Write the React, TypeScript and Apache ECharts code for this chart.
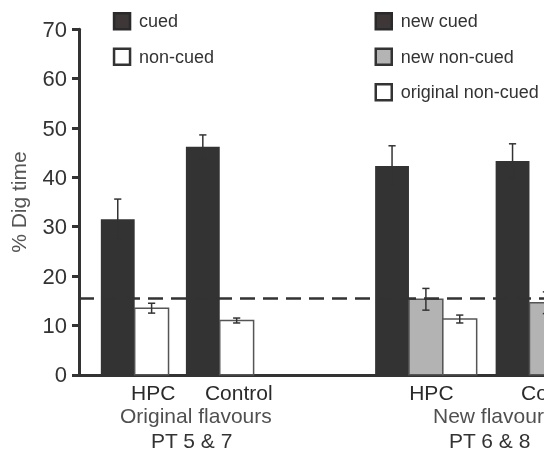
import React, { useEffect, useRef } from 'react';
import * as echarts from 'echarts';

// ---- data ----
const categories = ['HPC', 'Control', 'HPC', 'Control'];
const originalGroups = [0, 1];
const newGroups = [2, 3];
const cued = [31.5, 46.2];
const cuedSem = [4.1, 2.4];
const nonCued = [13.5, 11.0];
const nonCuedSem = [1.0, 0.5];
const newCued = [42.3, 43.3];
const newCuedSem = [4.1, 3.5];
const newNonCued = [15.3, 14.6];
const newNonCuedSem = [2.2, 2.2];
const origNonCued = [11.3, 11.0];
const origNonCuedSem = [0.8, 0.6];
const chanceLevel = 15.6;
const yTicks = [0, 10, 20, 30, 40, 50, 60, 70];
const groupTitles = ['Original flavours', 'PT 5 & 7', 'New flavours', 'PT 6 & 8'];

// ---- layout (x axis in bar-width units) ----
const GROUP_LEFT = [0.645, 3.158, 8.748, 12.308];
const LABEL_X = [2.19, 4.72, 10.41, 14.06];
const FONT = "'Liberation Sans', Arial, sans-serif";

const DARK = '#333333';
const GREY = '#b3b3b3';
const WHITE = '#ffffff';
const EDGE = '#555555';

function barSeries(name: string, values: number[], sems: number[], groups: number[], slot: number, fill: string, stroke: string) {
  return {
    type: 'custom',
    name,
    encode: { x: 0, y: 1 },
    data: values.map((v, i) => [GROUP_LEFT[groups[i]] + slot + 0.5, v, sems[i]]),
    itemStyle: { color: fill, borderColor: stroke },
    renderItem: (_params: any, api: any) => {
      const x = api.value(0);
      const v = api.value(1);
      const s = api.value(2);
      const tl = api.coord([x - 0.5, v]);
      const br = api.coord([x + 0.5, 0]);
      const top = api.coord([x, v + s]);
      const bot = api.coord([x, v - s]);
      const cap = 3.6;
      return {
        type: 'group',
        children: [
          {
            type: 'rect',
            shape: { x: tl[0], y: tl[1], width: br[0] - tl[0], height: br[1] - tl[1] },
            style: { fill, stroke, lineWidth: fill === DARK ? 0 : 1.5 },
          },
          { type: 'line', shape: { x1: top[0], y1: top[1], x2: bot[0], y2: bot[1] }, style: { stroke: '#333', lineWidth: 1.5 } },
          { type: 'line', shape: { x1: top[0] - cap, y1: top[1], x2: top[0] + cap, y2: top[1] }, style: { stroke: '#333', lineWidth: 1.5 } },
          { type: 'line', shape: { x1: bot[0] - cap, y1: bot[1], x2: bot[0] + cap, y2: bot[1] }, style: { stroke: '#333', lineWidth: 1.5 } },
        ],
      };
    },
  };
}

export default function App() {
  const ref = useRef<HTMLDivElement>(null);
  useEffect(() => {
    if (!ref.current) return;
    const chart = echarts.init(ref.current, undefined, { renderer: 'svg' });
    const series: any[] = [
      barSeries('cued', cued, cuedSem, originalGroups, 0, DARK, DARK),
      barSeries('non-cued', nonCued, nonCuedSem, originalGroups, 1, WHITE, EDGE),
      barSeries('new cued', newCued, newCuedSem, newGroups, 0, DARK, DARK),
      barSeries('new non-cued', newNonCued, newNonCuedSem, newGroups, 1, GREY, EDGE),
      barSeries('original non-cued', origNonCued, origNonCuedSem, newGroups, 2, WHITE, EDGE),
    ];
    series[0].markLine = {
      silent: true,
      symbol: 'none',
      label: { show: false },
      lineStyle: { type: [15, 8], width: 2.5, color: '#333' },
      data: [{ yAxis: chanceLevel }],
      z: 10,
    };
    const legendText = { fontSize: 18, color: '#333', fontFamily: FONT, padding: [0, 0, 0, 4] };
    const icon = (name: string, color: string, border: string) => ({
      name,
      icon: 'rect',
      itemStyle: { color, borderColor: border, borderWidth: 2.5 },
    });
    chart.setOption({
      animation: false,
      grid: { left: 75, top: 29.3, width: 545.6, height: 345.5, containLabel: false },
      legend: [
        {
          orient: 'vertical',
          left: 112.8,
          top: 12,
          padding: 0,
          itemWidth: 16,
          itemHeight: 16,
          itemGap: 17,
          textStyle: legendText,
          selectedMode: false,
          data: [icon('cued', '#3d3737', '#2a2a2a'), icon('non-cued', '#fff', '#333')],
        },
        {
          orient: 'vertical',
          left: 374.5,
          top: 12,
          padding: 0,
          itemWidth: 16,
          itemHeight: 16,
          itemGap: 17,
          textStyle: legendText,
          selectedMode: false,
          data: [
            icon('new cued', '#3d3737', '#2a2a2a'),
            icon('new non-cued', '#b4b4b4', '#333'),
            icon('original non-cued', '#fff', '#333'),
          ],
        },
      ],
      xAxis: {
        type: 'value',
        min: 0,
        max: 16,
        splitLine: { show: false },
        axisTick: { show: false },
        axisLine: { show: true, onZero: false, lineStyle: { color: '#333', width: 3 } },
        axisLabel: {
          customValues: LABEL_X,
          formatter: (v: number) => {
            const i = LABEL_X.findIndex((p) => Math.abs(p - v) < 1e-6);
            return i >= 0 ? categories[i] : '';
          },
          fontSize: 21,
          color: '#2a2a2a',
          fontFamily: FONT,
          margin: 7,
          showMinLabel: true,
          showMaxLabel: true,
          hideOverlap: false,
        },
      },
      yAxis: {
        type: 'value',
        min: yTicks[0],
        max: yTicks[yTicks.length - 1],
        interval: 10,
        splitLine: { show: false },
        axisLine: { show: true, lineStyle: { color: '#333', width: 3 } },
        axisTick: { show: true, length: 7, lineStyle: { color: '#333', width: 3 } },
        axisLabel: { fontSize: 22, color: '#333', fontFamily: FONT, margin: 12 },
        name: '% Dig time',
        nameLocation: 'middle',
        nameGap: 50,
        nameTextStyle: { fontSize: 21, color: '#555', fontFamily: FONT },
      },
      graphic: [
        { type: 'text', left: 120, top: 405, style: { text: groupTitles[0], font: `21px ${FONT}`, fill: '#505050' } },
        { type: 'text', left: 151, top: 430, style: { text: groupTitles[1], font: `21px ${FONT}`, fill: '#333' } },
        { type: 'text', left: 433, top: 405, style: { text: groupTitles[2], font: `21px ${FONT}`, fill: '#505050' } },
        { type: 'text', left: 449, top: 430, style: { text: groupTitles[3], font: `21px ${FONT}`, fill: '#333' } },
      ],
      series,
    });
    return () => chart.dispose();
  }, []);
  return <div ref={ref} style={{ position: 'fixed', left: 0, top: 0, width: 700, height: 455 }} />;
}
